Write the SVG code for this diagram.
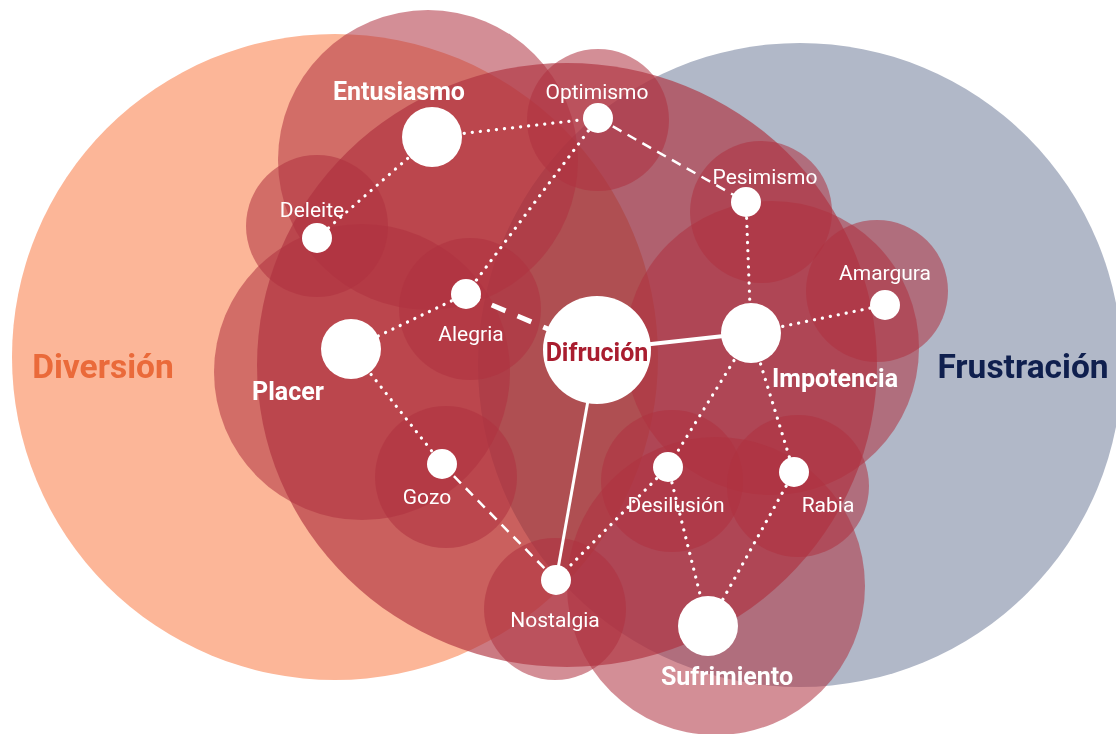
<svg xmlns="http://www.w3.org/2000/svg" width="1116" height="734" viewBox="0 0 1116 734">
  <style>
    .halo { fill: #af323f; fill-opacity: 0.55; }
    .core { fill: #af323f; fill-opacity: 0.65; }
    .node { fill: #ffffff; }
    .lbl { font-family: Roboto, "Liberation Sans", sans-serif; fill: #ffffff; text-anchor: middle; }
    .sm { font-size: 21px; font-weight: 400; }
    .bg { font-size: 25px; font-weight: 700; }
    .cat { font-family: Roboto, "Liberation Sans", sans-serif; font-size: 33.5px; font-weight: 700; text-anchor: middle; }
    .dot { stroke: #ffffff; stroke-width: 3.2; stroke-linecap: round; stroke-dasharray: 0.1 8; fill: none; }
    .dash { stroke: #ffffff; stroke-width: 2.5; stroke-dasharray: 10 7; fill: none; }
    .dashw { stroke: #ffffff; stroke-width: 5; stroke-dasharray: 15 13; fill: none; }
    .solid { stroke: #ffffff; fill: none; }
  </style>

  <rect x="0" y="0" width="1116" height="734" fill="#ffffff"/>

  <!-- category areas -->
  <g id="area-diversion">
    <circle cx="335" cy="357" r="323" fill="#fcb698"/>
  </g>
  <g id="area-frustracion">
    <circle cx="800" cy="365" r="322" fill="#b1b8c8" style="mix-blend-mode:multiply"/>
  </g>

  <!-- central area -->
  <g id="area-difrucion">
    <ellipse class="core" cx="567" cy="365" rx="310" ry="302"/>
  </g>

  <!-- halos -->
  <g id="halos">
    <circle class="halo" cx="428" cy="160" r="150"/>
    <circle class="halo" cx="362" cy="372" r="148"/>
    <circle class="halo" cx="772" cy="348" r="147"/>
    <circle class="halo" cx="716" cy="586" r="149"/>
    <circle class="halo" cx="598" cy="120" r="71"/>
    <circle class="halo" cx="761" cy="212" r="71"/>
    <circle class="halo" cx="877" cy="291" r="71"/>
    <circle class="halo" cx="317" cy="226" r="71"/>
    <circle class="halo" cx="470" cy="309" r="71"/>
    <circle class="halo" cx="446" cy="477" r="71"/>
    <circle class="halo" cx="555" cy="609" r="71"/>
    <circle class="halo" cx="672" cy="481" r="71"/>
    <circle class="halo" cx="798" cy="486" r="71"/>
  </g>

  <!-- connectors -->
  <g id="connectors">
    <line class="dot" x1="432" y1="137" x2="598" y2="118"/>
    <line class="dot" x1="432" y1="137" x2="317" y2="238"/>
    <line class="dot" x1="598" y1="118" x2="466" y2="294"/>
    <line class="dash" x1="598" y1="118" x2="746" y2="202"/>
    <line class="dashw" x1="466" y1="294" x2="597" y2="350"/>
    <line class="dot" x1="466" y1="294" x2="351" y2="349"/>
    <line class="dot" x1="351" y1="349" x2="442" y2="464"/>
    <line class="dash" x1="442" y1="464" x2="556" y2="580"/>
    <line class="solid" stroke-width="3" x1="597" y1="350" x2="556" y2="580"/>
    <line class="solid" stroke-width="4" x1="597" y1="350" x2="751" y2="333"/>
    <line class="dot" x1="746" y1="202" x2="751" y2="333"/>
    <line class="dot" x1="751" y1="333" x2="885" y2="305"/>
    <line class="dot" x1="751" y1="333" x2="668" y2="467"/>
    <line class="dot" x1="751" y1="333" x2="794" y2="472"/>
    <line class="dot" x1="668" y1="467" x2="556" y2="580"/>
    <line class="dot" x1="668" y1="467" x2="708" y2="626"/>
    <line class="dot" x1="794" y1="472" x2="708" y2="626"/>
  </g>

  <!-- nodes -->
  <g id="node-difrucion">
    <circle class="node" cx="597" cy="350" r="54"/>
    <text class="lbl bg" x="597" y="361" style="fill:#a91d2f">Difrución</text>
  </g>
  <g id="node-entusiasmo">
    <circle class="node" cx="432" cy="137" r="30"/>
    <text class="lbl bg" x="399" y="100">Entusiasmo</text>
  </g>
  <g id="node-placer">
    <circle class="node" cx="351" cy="349" r="30"/>
    <text class="lbl bg" x="288" y="400">Placer</text>
  </g>
  <g id="node-impotencia">
    <circle class="node" cx="751" cy="333" r="30"/>
    <text class="lbl bg" x="835" y="387">Impotencia</text>
  </g>
  <g id="node-sufrimiento">
    <circle class="node" cx="708" cy="626" r="30"/>
    <text class="lbl bg" x="727" y="685">Sufrimiento</text>
  </g>
  <g id="node-optimismo">
    <circle class="node" cx="598" cy="118" r="15"/>
    <text class="lbl sm" x="597" y="99">Optimismo</text>
  </g>
  <g id="node-pesimismo">
    <circle class="node" cx="746" cy="202" r="15"/>
    <text class="lbl sm" x="765" y="184">Pesimismo</text>
  </g>
  <g id="node-amargura">
    <circle class="node" cx="885" cy="305" r="15"/>
    <text class="lbl sm" x="885" y="280">Amargura</text>
  </g>
  <g id="node-deleite">
    <circle class="node" cx="317" cy="238" r="15"/>
    <text class="lbl sm" x="312" y="217">Deleite</text>
  </g>
  <g id="node-alegria">
    <circle class="node" cx="466" cy="294" r="15"/>
    <text class="lbl sm" x="471" y="341">Alegria</text>
  </g>
  <g id="node-gozo">
    <circle class="node" cx="442" cy="464" r="15"/>
    <text class="lbl sm" x="427" y="504">Gozo</text>
  </g>
  <g id="node-nostalgia">
    <circle class="node" cx="556" cy="580" r="15"/>
    <text class="lbl sm" x="555" y="627">Nostalgia</text>
  </g>
  <g id="node-desilusion">
    <circle class="node" cx="668" cy="467" r="15"/>
    <text class="lbl sm" x="676" y="512">Desilusión</text>
  </g>
  <g id="node-rabia">
    <circle class="node" cx="794" cy="472" r="15"/>
    <text class="lbl sm" x="828" y="512">Rabia</text>
  </g>

  <!-- category labels -->
  <g id="labels">
    <text class="cat" x="103" y="378" fill="#ea6a3a">Diversión</text>
    <text class="cat" x="1023" y="378" fill="#0f1f4e">Frustración</text>
  </g>
</svg>
